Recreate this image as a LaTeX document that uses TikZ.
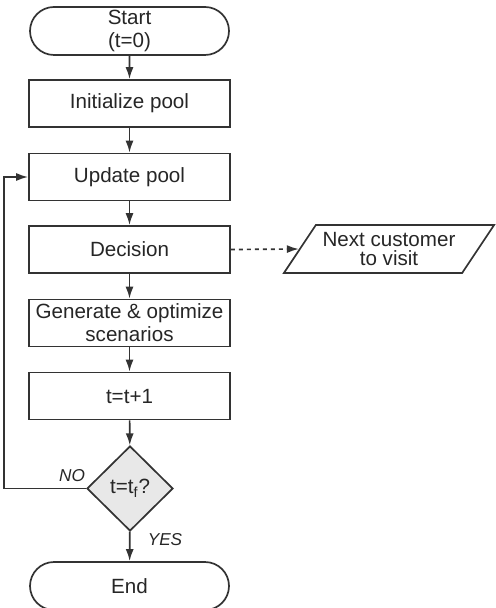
\documentclass[tikz,border=0pt]{standalone}
\usepackage{fontspec}
\setmainfont{Liberation Sans}
\usetikzlibrary{shapes.misc,shapes.geometric,arrows.meta}
\definecolor{ink}{HTML}{333333}
\tikzset{
  every node/.style = {font=\fontsize{10.3}{11.5}\selectfont, text=black!85, align=center},
  box/.style = {draw=ink, line width=.85pt, minimum width=100.5pt, minimum height=23.5pt, inner sep=1pt},
  term/.style = {draw=ink, line width=.85pt, rounded rectangle, minimum width=101.5pt, minimum height=24pt, inner sep=1pt},
  test/.style = {draw=ink, line width=.85pt, diamond, aspect=1, fill=black!9, minimum width=43pt, minimum height=42.5pt, inner sep=0pt},
  io/.style = {draw=ink, line width=.85pt, trapezium, trapezium left angle=49, trapezium right angle=131,
    trapezium stretches=true, minimum width=106pt, minimum height=24pt, inner sep=0pt,
    font=\fontsize{10.3}{9.5}\selectfont},
  lbl/.style = {font=\fontsize{8.6}{9}\selectfont\itshape}
}

\begin{document}
\begin{tikzpicture}[x=0.5pt, y=-0.5pt, line width=.85pt, draw=ink, >={Latex[length=6pt,width=4pt]}]
  \useasboundingbox (0,0) rectangle (495,608);
  \node[term] (start) at (129.5,31) {Start\\(t=0)};
  \node[box] (init) at (129.5,103.5) {Initialize pool};
  \node[box] (update) at (129.5,177) {Update pool};
  \node[box] (decision) at (129.5,249.5) {Decision};
  \node[box] (gen) at (129.5,323) {Generate \& optimize\\scenarios};
  \node[box] (tick) at (129.5,396) {t=t+1};
  \node[test] (stop) at (130,488.5) {t=t$_{\mathrm{f}}$?};
  \node[term] (end) at (129.5,586) {End};
  \node[io] (next) at (389,249) {Next customer\\to visit};
  \node[lbl] (no) at (72,476) {NO};
  \node[lbl] (yes) at (165,540) {YES};
  \coordinate (loop) at (4,488.5);
  % main flow
  \draw[->, ink] (start) -- (init);
  \draw[->, ink] (init) -- (update);
  \draw[->, ink] (update) -- (decision);
  \draw[->, ink] (decision) -- (gen);
  \draw[->, ink] (gen) -- (tick);
  \draw[->, ink] (tick) -- (stop);
  \draw[->, ink] (stop) -- (end);
  % back to the pool
  \draw[->, ink] (stop.west) -- (loop) |- (update.west);
  \draw[->, ink, dash pattern=on 2pt off 2pt] (decision.east) -- (next.west);
\end{tikzpicture}
\end{document}
